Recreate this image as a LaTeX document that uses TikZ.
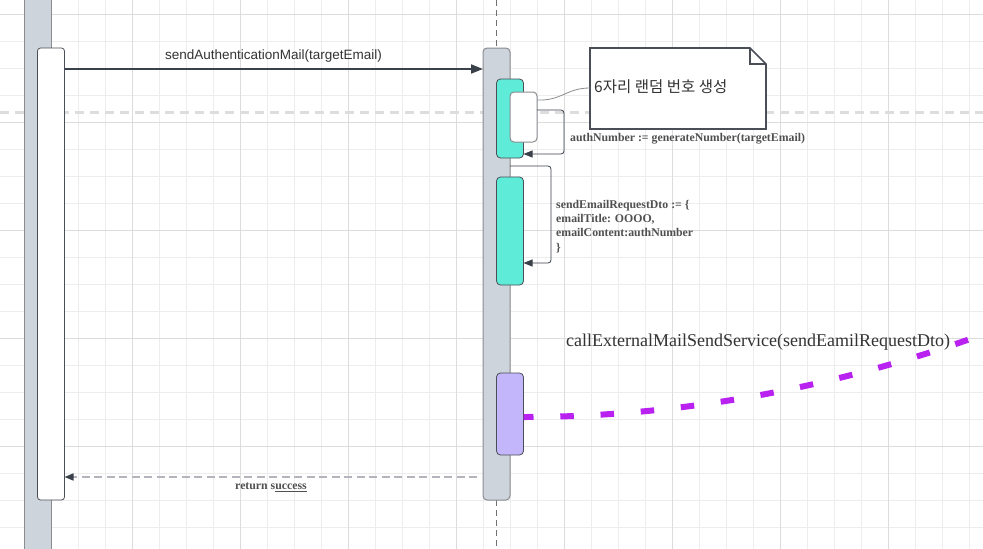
\documentclass[tikz,border=0pt]{standalone}
\usepackage{fontspec}
\setmainfont{Liberation Serif}
\setsansfont{Liberation Sans}
\newfontfamily\krfont{Noto Sans CJK KR}
\usetikzlibrary{arrows.meta}
\definecolor{gridminor}{HTML}{EDEDED}
\definecolor{gridmajor}{HTML}{DCDCDC}
\definecolor{sepgrey}{HTML}{DDDDDD}
\definecolor{lifegrey}{HTML}{CED4DB}
\definecolor{lifeborder}{HTML}{8A8C90}
\definecolor{boxborder}{HTML}{4A4F57}
\definecolor{tealfill}{HTML}{5EEBD8}
\definecolor{purpfill}{HTML}{C4B6FA}
\definecolor{extpurple}{HTML}{B821F0}
\definecolor{arrowdark}{HTML}{3A414A}
\definecolor{textdark}{HTML}{333333}
\definecolor{textmid}{HTML}{505050}
\definecolor{retgrey}{HTML}{B4B4BC}
\tikzset{
  lifecol/.style={fill=lifegrey, draw=lifeborder, line width=1pt, minimum width=27pt, inner sep=0pt, outer sep=0pt, anchor=north west},
  actwhite/.style={fill=white, draw=boxborder, line width=0.8pt, rounded corners=3pt, minimum width=27pt, inner sep=0pt, outer sep=0pt, anchor=north west},
  actgrey/.style={fill=lifegrey, draw=lifeborder, line width=1pt, rounded corners=4pt, minimum width=27pt, inner sep=0pt, outer sep=0pt, anchor=north west},
  actteal/.style={fill=tealfill, draw=boxborder, line width=0.8pt, rounded corners=4pt, minimum width=27pt, inner sep=0pt, outer sep=0pt, anchor=north west},
  actpurp/.style={fill=purpfill, draw=boxborder, line width=0.8pt, rounded corners=4pt, minimum width=27pt, inner sep=0pt, outer sep=0pt, anchor=north west},
  innerwhite/.style={fill=white, draw=lifeborder, line width=1pt, rounded corners=4pt, minimum width=27pt, inner sep=0pt, outer sep=0pt, anchor=north west},
  msgline/.style={draw=arrowdark, line width=2pt, -{Triangle[length=12pt,width=9pt]}},
  selfmsg/.style={draw=arrowdark, line width=0.8pt, rounded corners=3pt, -{Triangle[length=9pt,width=7pt]}},
  retline/.style={draw=retgrey, line width=1.6pt, dash pattern=on 8pt off 4.5pt, -{Triangle[length=9pt,width=7pt,color=arrowdark]}},
  extcall/.style={draw=extpurple, line width=6pt, dash pattern=on 13.5pt off 26.8pt, dash phase=3.5pt},
  notelink/.style={draw=lifeborder, line width=0.8pt},
  sanslabel/.style={font=\sffamily\fontsize{13.5}{16}\selectfont, text=textdark, inner sep=0pt},
  boldlabel/.style={font=\bfseries\fontsize{11.8}{14.3}\selectfont, text=textmid, inner sep=0pt},
}
\begin{document}
\begin{tikzpicture}[x=1pt,y=-1pt]
\useasboundingbox (0,0) rectangle (983,549);
\clip (0,0) rectangle (983,549);
\fill[white] (0,0) rectangle (983,549);
% grid
\foreach \gx in {24,51,...,980} \draw[gridminor, line width=1pt] (\gx,0) -- (\gx,549);
\foreach \gy in {14,41,...,545} \draw[gridminor, line width=1pt] (0,\gy) -- (983,\gy);
\foreach \gx in {24,132,...,980} \draw[gridmajor, line width=1pt] (\gx,0) -- (\gx,549);
\foreach \gy in {14,122,...,545} \draw[gridmajor, line width=1pt] (0,\gy) -- (983,\gy);
% separator dashed line
\coordinate (sepL) at (0,112);
\coordinate (sepR) at (983,112);
\draw[sepgrey, line width=3pt, dash pattern=on 9pt off 6pt] (sepL) -- (sepR);
% left lifeline
\node[lifecol, minimum height=580pt] (llife) at (24,-15) {};
\node[actwhite, minimum height=452pt] (lact) at (37.5,48) {};
% right lifeline
\coordinate (rtop) at (496.5,0);
\coordinate (rbot) at (496.5,549);
\draw[lifeborder!80!black, line width=0.8pt, dash pattern=on 6pt off 4pt] (rtop) -- (rbot);
\node[actgrey, minimum height=452pt] (ract) at (483,48) {};
\node[actteal, minimum height=79pt] (teal1) at (496.5,79) {};
\node[innerwhite, minimum height=50pt] (wbox) at (510,92) {};
\node[actteal, minimum height=108pt] (teal2) at (496.5,177) {};
\node[actpurp, minimum height=82pt] (purp) at (496.5,373) {};
% message 1
\coordinate (m1) at (0,69);
\draw[msgline] (lact.east |- m1) -- (ract.west |- m1);
\node[sanslabel] (l1) at (273.5,56) {sendAuthenticationMail(targetEmail)};
% self message 1
\coordinate (s1a) at (0,110);
\coordinate (s1c) at (564,154);
\draw[selfmsg] (wbox.east |- s1a) -| (s1c) -- (teal1.east |- s1c);
\node[boldlabel, anchor=west] (l2) at (570,138.5) {authNumber := generateNumber(targetEmail)};
% note
\node[minimum width=176pt, minimum height=81pt, inner sep=0pt, outer sep=0pt, anchor=north west] (note) at (590,48) {};
\filldraw[fill=white, draw=boxborder, line width=1.6pt]
  (note.north west) -- ([xshift=-16pt]note.north east) -- ([yshift=-16pt]note.north east)
  -- (note.south east) -- (note.south west) -- cycle;
\draw[draw=boxborder, line width=1.2pt] ([xshift=-16pt]note.north east) -- ([xshift=-16pt,yshift=-16pt]note.north east) -- ([yshift=-16pt]note.north east);
\node[anchor=west, inner sep=0pt, text=textdark, font=\krfont\fontsize{15.5}{18}\selectfont] (notetext) at (594,87) {6자리 랜덤 번호 생성};
\coordinate (n1) at (0,100);
\coordinate (n2) at (0,88);
\draw[notelink] (wbox.east |- n1) .. controls (562,101) and (566,88) .. (note.west |- n2);
% self message 2
\coordinate (s2a) at (0,166);
\coordinate (s2c) at (551,263);
\draw[selfmsg] (ract.east |- s2a) -| (s2c) -- (teal2.east |- s2c);
\node[boldlabel, anchor=north west, align=left] (l3) at (556,200) {sendEmailRequestDto := \{\\emailTitle: OOOO,\\emailContent:authNumber\\\}};
% external call
\coordinate (p1) at (0,417);
\coordinate (pend) at (992,331.2);
\draw[extcall] (purp.east |- p1) .. controls (679.3,417) and (835.7,388.4) .. (pend);
\node[anchor=west, inner sep=0pt, text=textdark, font=\fontsize{18}{21}\selectfont] (l4) at (566,342) {callExternalMailSendService(sendEamilRequestDto)};
% return
\coordinate (r1) at (0,477);
\draw[retline] ([xshift=-6pt]ract.west |- r1) -- (lact.east |- r1);
\node[boldlabel] (l5) at (271,487.5) {return s\underline{uccess}};
\end{tikzpicture}
\end{document}
